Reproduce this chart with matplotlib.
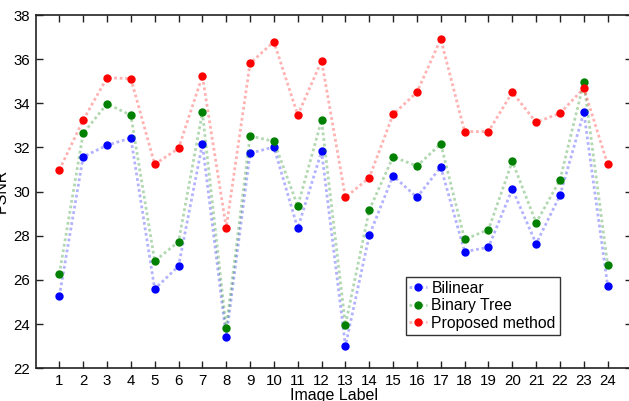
import matplotlib
matplotlib.use("Agg")
import matplotlib.pyplot as plt
from matplotlib.colors import to_rgba

plt.rcParams['font.family'] = ['Liberation Sans', 'DejaVu Sans']

labels = list(range(1, 25))
bilinear = [25.27, 31.58, 32.10, 32.43, 25.59, 26.63, 32.16, 23.42, 31.74, 32.02, 28.34, 31.83,
            23.02, 28.02, 30.72, 29.74, 31.12, 27.28, 27.48, 30.12, 27.64, 29.83, 33.59, 25.74]
binary_tree = [26.27, 32.64, 33.98, 33.46, 26.86, 27.73, 33.59, 23.82, 32.52, 32.28, 29.35, 33.23,
               23.96, 29.17, 31.58, 31.16, 32.16, 27.84, 28.28, 31.37, 28.59, 30.53, 34.95, 26.68]
proposed = [30.98, 33.24, 35.16, 35.12, 31.24, 31.96, 35.24, 28.37, 35.81, 36.79, 33.47, 35.92,
            29.74, 30.63, 33.50, 34.50, 36.91, 32.72, 32.72, 34.50, 33.14, 33.55, 34.68, 31.24]
series_names = ['Bilinear', 'Binary Tree', 'Proposed method']
yticks = [22, 24, 26, 28, 30, 32, 34, 36, 38]

W, H = 629, 401
fig = plt.figure(figsize=(W / 100, H / 100), dpi=100)
ax = fig.add_axes([35.5 / W, (H - 368.3) / H, (631.5 - 35.5) / W, (368.3 - 15) / H])

colors = ['#0000ff', '#008000', '#ff0000']
for vals, c, name in zip([bilinear, binary_tree, proposed], colors, series_names):
    ax.plot(labels, vals, linestyle=(0, (1, 1)), color=to_rgba(c, 0.3), linewidth=2.0,
            marker='o', markersize=5, markerfacecolor=c, markeredgecolor=c, label=name)

ax.set_xlim(0, 25)
ax.set_ylim(22, 38)
ax.set_xticks(labels)
ax.set_xticklabels([str(v) for v in labels])
ax.set_yticks(yticks)
ax.tick_params(direction='in', length=5, width=1, top=True, right=True,
               labelsize=10.8, pad=4, colors='#222222', labelcolor='black')
for s in ax.spines.values():
    s.set_linewidth(1.2)
    s.set_color('#222222')

ax.set_xlabel('Image Label', fontsize=11.5, labelpad=0)
fig.text(9 / W, 1 - 191 / H, 'PSNR', rotation=90, ha='right', va='center', fontsize=11.5)

leg = ax.legend(loc='upper left', bbox_to_anchor=((405.5 - 35.5) / 596, (368.3 - 277) / 353.3),
                fontsize=11.3, frameon=True, fancybox=False, handlelength=1.1,
                handletextpad=0.3, borderpad=0.25, labelspacing=0.15, borderaxespad=0)
leg.get_frame().set_edgecolor('black')
leg.get_frame().set_linewidth(1.0)

fig.savefig('out.png', dpi=100)
